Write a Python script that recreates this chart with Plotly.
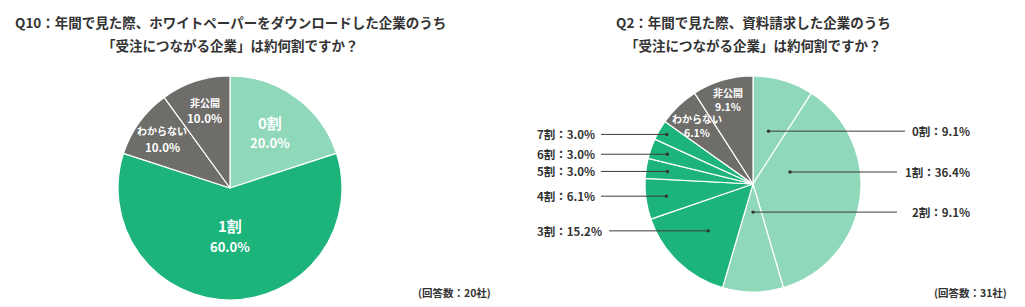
import math
import plotly.graph_objects as go

# ---------------- data ----------------
q10_labels = ["0割", "1割", "わからない", "非公開"]
q10_values = [20.0, 60.0, 10.0, 10.0]
q10_title = ["Q10：年間で見た際、ホワイトペーパーをダウンロードした企業のうち",
             "「受注につながる企業」は約何割ですか？"]
q10_note = "(回答数：20社)"

q2_labels = ["0割", "1割", "2割", "3割", "4割", "5割", "6割", "7割", "わからない", "非公開"]
q2_values = [9.1, 36.4, 9.1, 15.2, 6.1, 3.0, 3.0, 3.0, 6.1, 9.1]
q2_title = ["Q2：年間で見た際、資料請求した企業のうち",
            "「受注につながる企業」は約何割ですか？"]
q2_note = "(回答数：31社)"

# ---------------- style ----------------
W, H = 1025, 307
LIGHT = "#8fd8ba"
DARK = "#1db47c"
GRAY = "#6e6d69"
TXT = "#333333"
FONT = "Noto Sans CJK JP"

q10_colors = [LIGHT, DARK, GRAY, GRAY]
q2_colors = [LIGHT, LIGHT, LIGHT, DARK, DARK, DARK, DARK, DARK, GRAY, GRAY]

# pie geometry in pixels: center x, center y, radius
P1 = (230, 188, 112)
P2 = (753, 184, 108)


def px(x):
    return x / W


def py(y):
    return 1 - y / H


def mid_angles(values):
    tot = sum(values)
    out, cum = [], 0.0
    for v in values:
        out.append((cum + v / 2) / tot * 360.0)
        cum += v
    return out


def polar(center, ang, rfrac):
    cx, cy, r = center
    a = math.radians(ang)
    return cx + rfrac * r * math.sin(a), cy - rfrac * r * math.cos(a)


def fmt(v):
    return f"{v:.1f}%"


fig = go.Figure()
for labels, values, colors, (cx, cy, r) in [
    (q10_labels, q10_values, q10_colors, P1),
    (q2_labels, q2_values, q2_colors, P2),
]:
    fig.add_trace(go.Pie(
        labels=labels, values=values, sort=False, direction="clockwise", rotation=0,
        marker=dict(colors=colors, line=dict(color="white", width=1.2)),
        textinfo="none", hoverinfo="label+percent", showlegend=False,
        domain=dict(x=[px(cx - r), px(cx + r)], y=[py(cy + r), py(cy - r)]),
    ))

ann = []


def text(x, y, s, size, color=TXT, xanchor="center", weight=700):
    ann.append(dict(x=px(x), y=py(y), xref="paper", yref="paper", text=s, showarrow=False,
                    xanchor=xanchor, yanchor="middle",
                    font=dict(family=FONT, size=size, color=color, weight=weight)))


# titles
for lines, cx in [(q10_title, P1[0]), (q2_title, P2[0])]:
    text(cx, 22, lines[0], 13.5)
    text(cx, 45, lines[1], 13.5)

# inside labels: label -> (radial fraction, name size, pct size, half gap)
q10_inside = {"0割": (0.61, 15, 13, 10), "1割": (0.43, 15, 13, 10.5),
              "わからない": (0.75, 10, 11.5, 8), "非公開": (0.73, 10, 11.5, 7.5)}
for lab, val, ang in zip(q10_labels, q10_values, mid_angles(q10_values)):
    rf, s1, s2, g = q10_inside[lab]
    x, y = polar(P1, ang, rf)
    text(x, y - g, lab, s1, color="white")
    text(x, y + g, fmt(val), s2, color="white")

q2_inside = {"わからない": (0.75, 10, 10.5, 7), "非公開": (0.82, 10, 10.5, 7)}
q2_outside = {
    # label: (radial fraction of dot, angle override, side, line end x, text x)
    "0割": (0.51, None, "right", 905, 972),
    "1割": (0.36, 72, "right", 897, 972),
    "2割": (0.26, None, "right", 897, 972),
    "3割": (0.60, None, "left", 609, 535),
    "4割": (0.81, None, "left", 601, 535),
    "5割": (0.80, None, "left", 601, 535),
    "6割": (0.84, None, "left", 601, 535),
    "7割": (0.92, None, "left", 601, 535),
}
shapes = []
for lab, val, ang in zip(q2_labels, q2_values, mid_angles(q2_values)):
    if lab in q2_inside:
        rf, s1, s2, g = q2_inside[lab]
        x, y = polar(P2, ang, rf)
        text(x, y - g, lab, s1, color="white")
        text(x, y + g, fmt(val), s2, color="white")
    else:
        rf, aov, side, lx, tx = q2_outside[lab]
        x, y = polar(P2, ang if aov is None else aov, rf)
        shapes.append(dict(type="line", xref="paper", yref="paper", layer="above",
                           x0=px(lx), y0=py(y), x1=px(x), y1=py(y),
                           line=dict(color="#3c3c3c", width=1)))
        d = 1.7
        shapes.append(dict(type="circle", xref="paper", yref="paper", layer="above",
                           x0=px(x - d), x1=px(x + d), y0=py(y - d), y1=py(y + d),
                           fillcolor="#333333", line=dict(width=0)))
        text(tx, y, f"{lab}：{fmt(val)}", 11.5, xanchor="right" if side == "right" else "left")

# footnotes
text(454, 292, q10_note, 10.5)
text(970, 292, q2_note, 10.5)

fig.update_layout(width=W, height=H, autosize=False, margin=dict(l=0, r=0, t=0, b=0),
                  paper_bgcolor="white", plot_bgcolor="white",
                  annotations=ann, shapes=shapes, showlegend=False)
fig.write_html("out.html")
